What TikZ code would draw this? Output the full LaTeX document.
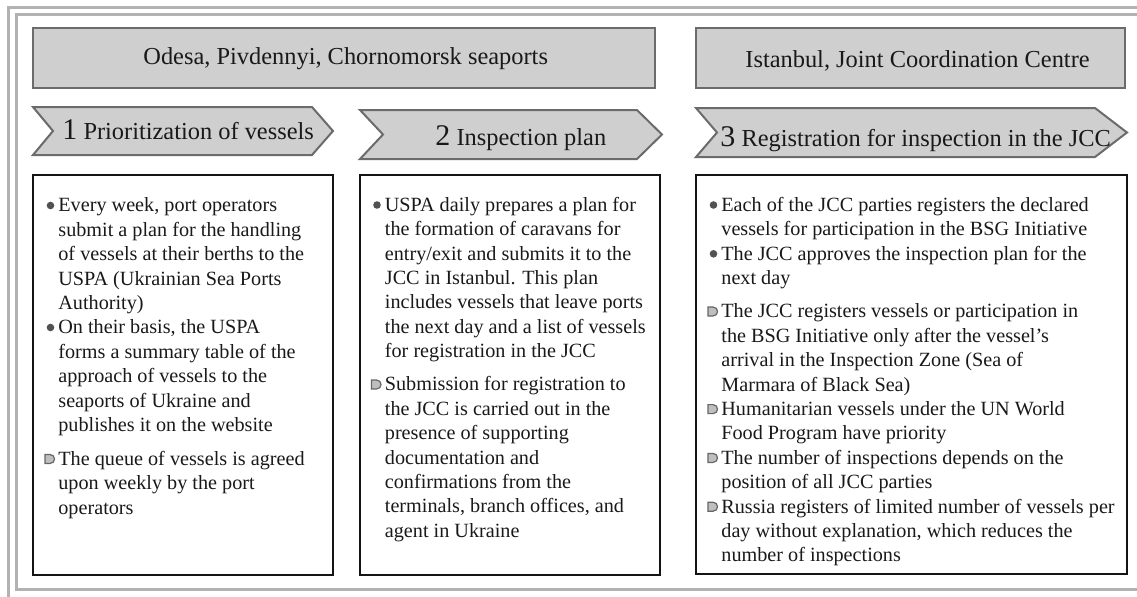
\documentclass[tikz,border=0pt]{standalone}
\usepackage{fontspec}
\setmainfont{Liberation Serif}
\begin{document}
\begin{tikzpicture}[x=0.5pt,y=-0.5pt,
  frame/.style={draw=black!30, line width=1.5pt},
  hdr/.style={draw=black!58, fill=black!19, line width=1pt},
  chev/.style={draw=black!58, fill=black!19, line width=1pt},
  cbox/.style={draw=black!92, line width=1.3pt},
  htext/.style={font=\fontsize{12.2}{14}\selectfont, inner sep=0pt, anchor=base west, text=black!90},
  para/.style={font=\fontsize{10.1}{12.2}\selectfont, align=left, inner sep=0pt, anchor=north west, text=black!90},
  cbul/.style={fill=black!68, draw=none},
  dbul/.style={fill=black!25, draw=black!60, line width=0.6pt},
]
\useasboundingbox (0,0) rectangle (1137,596);
% outer frame
\draw[frame] (8,620) -- (8,7) -- (1160,7);
\draw[frame] (1160,589) -- (16,589) -- (16,14) -- (1160,14);

% header boxes
\draw[hdr] (33,28) rectangle (655,88);
\draw[hdr] (696,28) rectangle (1125,88);
\node[htext] (h1) at (143,64) {Odesa, Pivdennyi, Chornomorsk seaports};
\node[htext] (h2) at (745,67) {Istanbul, Joint Coordination Centre};

% chevrons
\draw[chev] (33,107) -- (312,107) -- (333,131) -- (312,155) -- (33,155) -- (53,131) -- cycle;
\draw[chev] (360,110) -- (637,110) -- (662,134.5) -- (637,159) -- (360,159) -- (383,134.5) -- cycle;
\draw[chev] (696,108) -- (1095,108) -- (1127,132.5) -- (1095,157) -- (696,157) -- (717,132.5) -- cycle;
\node[htext] (c1) at (62,139) {{\fontsize{15}{15}\selectfont 1} Prioritization of vessels};
\node[htext] (c2) at (435,145) {{\fontsize{15}{15}\selectfont 2} Inspection plan};
\node[htext] (c3) at (720,146) {{\fontsize{15}{15}\selectfont 3} Registration for inspection in the JCC};

% content boxes
\draw[cbox] (33,175) rectangle (333,575);
\draw[cbox] (360,175) rectangle (660,575);
\draw[cbox] (696,175) rectangle (1127,574);

\newcommand{\cb}[2]{\fill[cbul] (#1-7.5,#2-6) circle[radius=3.8];}
\newcommand{\db}[2]{\draw[dbul] (#1-13,#2-10.5) -- (#1-8,#2-10.5) .. controls (#1-2,#2-10.5) and (#1-2,#2-1.5) .. (#1-8,#2-1.5) -- (#1-13,#2-1.5) -- cycle;}

% box 1
\cb{58}{211.5}
\node[para] (p11) at (58,194.4) {\strut Every week, port operators\\submit a plan for the handling\\of vessels at their berths to the\\USPA (Ukrainian Sea Ports\\Authority)};
\cb{58}{333.5}
\node[para] (p12) at (58,316.4) {\strut On their basis, the USPA\\forms a summary table of the\\approach of vessels to the\\seaports of Ukraine and\\publishes it on the website};
\db{58}{465}
\node[para] (p13) at (58,447.9) {\strut The queue of vessels is agreed\\upon weekly by the port\\operators};

% box 2
\cb{384.5}{211}
\node[para] (p21) at (384.5,193.9) {\strut USPA daily prepares a plan for\\the formation of caravans for\\entry/exit and submits it to the\\JCC in Istanbul. This plan\\includes vessels that leave ports\\the next day and a list of vessels\\for registration in the JCC};
\db{384.5}{390.5}
\node[para] (p22) at (384.5,373.4) {\strut Submission for registration to\\the JCC is carried out in the\\presence of supporting\\documentation and\\confirmations from the\\terminals, branch offices, and\\agent in Ukraine};

% box 3
\cb{721}{211}
\node[para] (p31) at (721,193.9) {\strut Each of the JCC parties registers the declared\\vessels for participation in the BSG Initiative};
\cb{721}{259.8}
\node[para] (p32) at (721,242.7) {\strut The JCC approves the inspection plan for the\\next day};
\db{721}{317.5}
\node[para] (p33) at (721,300.4) {\strut The JCC registers vessels or participation in\\the BSG Initiative only after the vessel’s\\arrival in the Inspection Zone (Sea of\\Marmara of Black Sea)};
\db{721}{415.1}
\node[para] (p34) at (721,398) {\strut Humanitarian vessels under the UN World\\Food Program have priority};
\db{721}{463.9}
\node[para] (p35) at (721,446.8) {\strut The number of inspections depends on the\\position of all JCC parties};
\db{721}{512.7}
\node[para] (p36) at (721,495.6) {\strut Russia registers of limited number of vessels per\\day without explanation, which reduces the\\number of inspections};
\end{tikzpicture}
\end{document}
